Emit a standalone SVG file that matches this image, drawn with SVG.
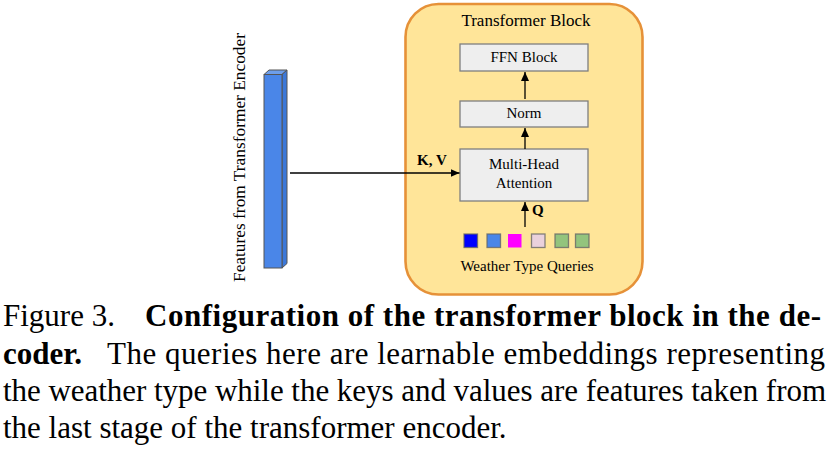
<svg xmlns="http://www.w3.org/2000/svg" width="836" height="453" viewBox="0 0 836 453">
<defs>
<style>
text{font-family:"Liberation Serif","Times New Roman",serif;fill:#000}
.lbl{font-size:15px;text-anchor:middle}
.box{fill:#eeeeee;stroke:#7f7f7f;stroke-width:1.3}
.sq{stroke:#666;stroke-width:1.3;stroke-opacity:0.8}
.conn{stroke:#000;stroke-width:1.3;fill:none}
.cap{font-size:31px}
.b{font-weight:bold}
</style>
<marker id="ah" markerUnits="userSpaceOnUse" markerWidth="10" markerHeight="8" refX="9" refY="4" orient="auto">
<path d="M0,0 L9,4 L0,8 Z" fill="#000"/>
</marker>
</defs>

<g id="encoder-features">
<polygon points="264,74.5 269,70 287,70 282,74.5" fill="#6d9eeb" stroke="#555" stroke-width="1"/>
<polygon points="282,74.5 287,70 287,263.5 282,268" fill="#3c78d8" stroke="#555" stroke-width="1"/>
<rect x="264" y="74.5" width="18" height="193.5" fill="#4a86e8" stroke="#555" stroke-width="1"/>
<text transform="translate(245,157.5) rotate(-90)" text-anchor="middle" font-size="17" textLength="249" lengthAdjust="spacingAndGlyphs">Features from Transformer Encoder</text>
</g>

<g id="transformer-block">
<rect x="405.5" y="4" width="237" height="290.5" rx="33" ry="33" fill="#ffe599" stroke="#e69138" stroke-width="2.6"/>
<text x="526" y="26" font-size="17" text-anchor="middle">Transformer Block</text>
</g>

<g id="ffn-block">
<rect class="box" x="460" y="44" width="128" height="27"/>
<text class="lbl" x="524" y="62">FFN Block</text>
</g>

<g id="norm">
<rect class="box" x="460" y="101" width="128" height="26"/>
<text class="lbl" x="524" y="118">Norm</text>
</g>

<g id="multi-head-attention">
<rect class="box" x="460" y="149" width="128" height="52"/>
<text class="lbl" x="524" y="169">Multi-Head</text>
<text class="lbl" x="524" y="188">Attention</text>
</g>

<g id="weather-type-queries">
<rect class="sq" x="464" y="234" width="13.5" height="13.5" fill="#0000ff"/>
<rect class="sq" x="487" y="234" width="13.5" height="13.5" fill="#4a86e8"/>
<rect x="508" y="234" width="13.5" height="13.5" fill="#ff00ff"/>
<rect class="sq" x="531.5" y="234" width="13.5" height="13.5" fill="#ead1dc"/>
<rect class="sq" x="555" y="234" width="13.5" height="13.5" fill="#93c47d"/>
<rect class="sq" x="575.5" y="234" width="13.5" height="13.5" fill="#93c47d"/>
<text class="lbl" x="527" y="271">Weather Type Queries</text>
</g>

<g id="connectors">
<line class="conn" x1="525" y1="99" x2="525" y2="72" marker-end="url(#ah)"/>
<line class="conn" x1="525" y1="149" x2="525" y2="128" marker-end="url(#ah)"/>
<line class="conn" x1="525" y1="227" x2="525" y2="202" marker-end="url(#ah)"/>
<line class="conn" x1="290" y1="173" x2="459.5" y2="173" marker-end="url(#ah)"/>
<text x="417" y="165" font-size="15" font-weight="bold">K, V</text>
<text x="532" y="215" font-size="15" font-weight="bold">Q</text>
</g>

<g id="caption">
<text class="cap" x="3" y="326">Figure 3.</text>
<text class="cap b" x="145" y="326" textLength="676" lengthAdjust="spacing">Configuration of the transformer block in the de-</text>
<text class="cap b" x="3" y="363.5">coder.</text>
<text class="cap" x="107" y="363.5" textLength="718" lengthAdjust="spacing">The queries here are learnable embeddings representing</text>
<text class="cap" x="3" y="401" textLength="823" lengthAdjust="spacing">the weather type while the keys and values are features taken from</text>
<text class="cap" x="3" y="438">the last stage of the transformer encoder.</text>
</g>
</svg>
